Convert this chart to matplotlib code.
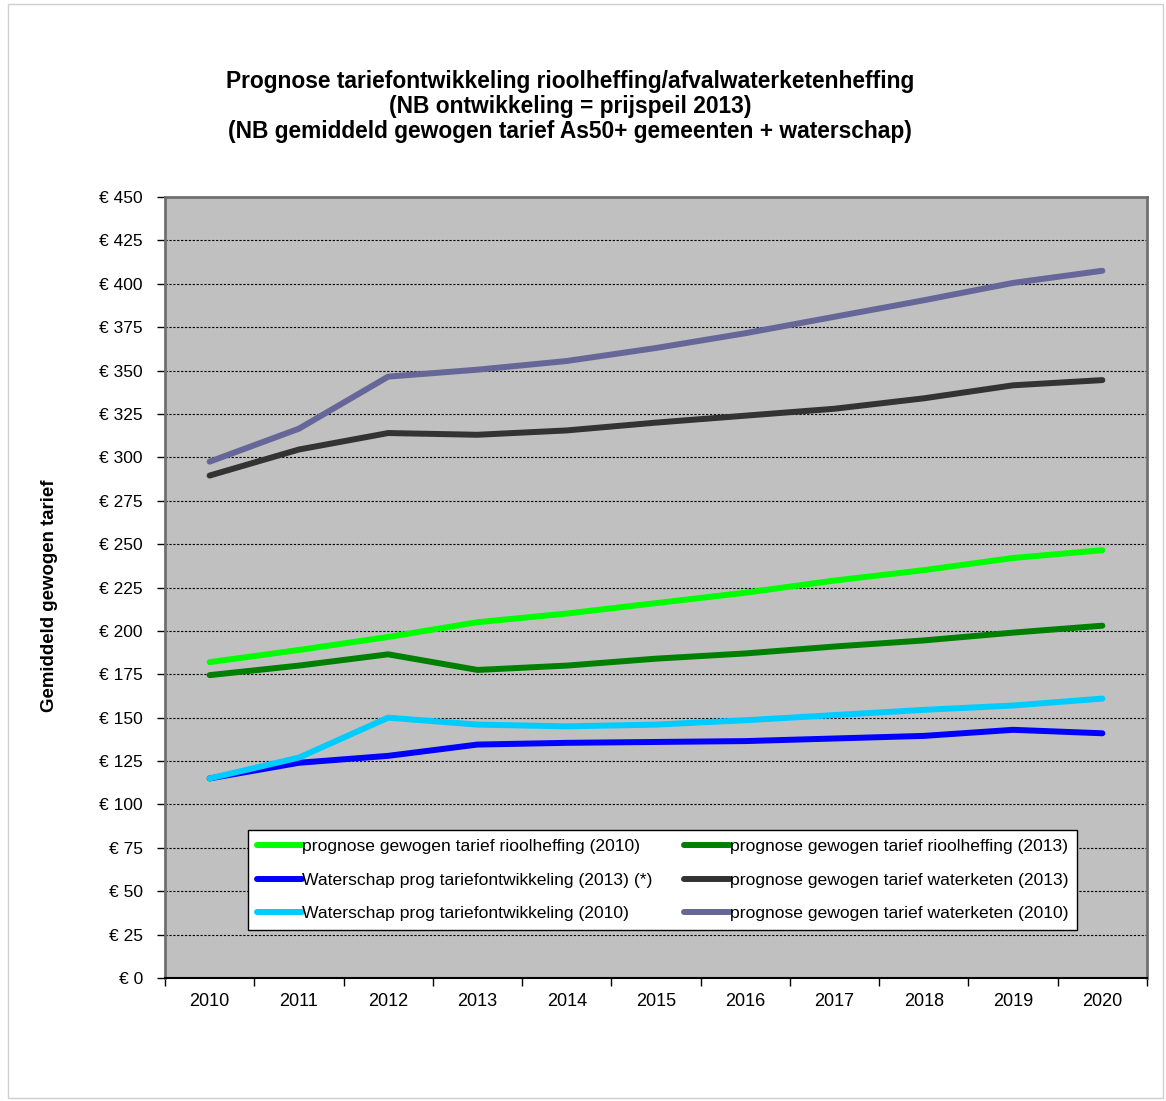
import matplotlib.pyplot as plt
from matplotlib.patches import Rectangle
import numpy as np

plt.rcParams['font.family'] = ['Liberation Sans', 'DejaVu Sans']

years = [2010, 2011, 2012, 2013, 2014, 2015, 2016, 2017, 2018, 2019, 2020]

riool_2010 = [182, 189, 196.5, 205, 210, 216, 222, 229, 235, 242, 246.5]
riool_2013 = [174.5, 180, 186.5, 177.5, 180, 184, 187, 191, 194.5, 199, 203]
waterschap_2013 = [115, 124, 128, 134.5, 135.5, 136, 136.5, 138, 139.5, 143, 141]
waterschap_2010 = [115, 127, 150, 146, 145, 146, 148.5, 151.5, 154.5, 157, 161]
waterketen_2013 = [289.5, 304.5, 314, 313, 315.5, 320, 324, 328, 334, 341.5, 344.5]
waterketen_2010 = [297.5, 316.5, 346.5, 350.5, 355.5, 363, 371.5, 381, 390.5, 400.5, 407.5]

series = [
    ("prognose gewogen tarief rioolheffing (2010)", riool_2010, "#00FF00"),
    ("Waterschap prog tariefontwikkeling (2013) (*)", waterschap_2013, "#0000FF"),
    ("Waterschap prog tariefontwikkeling (2010)", waterschap_2010, "#00CCFF"),
    ("prognose gewogen tarief rioolheffing (2013)", riool_2013, "#008000"),
    ("prognose gewogen tarief waterketen (2013)", waterketen_2013, "#333333"),
    ("prognose gewogen tarief waterketen (2010)", waterketen_2010, "#666699"),
]

fig = plt.figure(figsize=(11.66, 11.01), dpi=100)
fig.patches.append(Rectangle((8 / 1166, 3 / 1101), 1155 / 1166, 1094 / 1101,
                             transform=fig.transFigure, fill=False,
                             edgecolor="#d0d0d0", linewidth=1))
ax = fig.add_axes([165 / 1166, 1 - 978 / 1101, 982 / 1166, 781 / 1101])
ax.set_facecolor("#C0C0C0")

x = np.arange(len(years))
lines = []
for label, vals, color in series:
    ln, = ax.plot(x, vals, color=color, linewidth=4.3, label=label,
                  solid_capstyle="round", solid_joinstyle="round")
    lines.append(ln)

ax.set_xlim(-0.5, len(years) - 0.5)
ax.set_ylim(0, 450)
ax.set_yticks(np.arange(0, 451, 25))
ax.set_yticklabels([f"€ {v}" for v in range(0, 451, 25)])
ax.set_xticks(x)
ax.set_xticklabels([str(y) for y in years])
ax.set_xticks(np.arange(-0.5, len(years), 1), minor=True)
ax.tick_params(axis="x", which="major", length=0, pad=11, labelsize=13)
ax.tick_params(axis="x", which="minor", length=6, width=1, color="black")
ax.tick_params(axis="y", length=6, width=1, pad=10, labelsize=12.5)

for v in range(25, 450, 25):
    ax.axhline(v, color="black", linewidth=0.8, linestyle=(0, (2, 1.5)), zorder=1)

for side in ["left", "right", "top"]:
    ax.spines[side].set_color("#707070")
    ax.spines[side].set_linewidth(2)
ax.spines["bottom"].set_color("black")
ax.spines["bottom"].set_linewidth(1.5)

ax.set_ylabel("Gemiddeld gewogen tarief", fontsize=13.4, fontweight="bold")
ax.yaxis.set_label_coords(-0.109, 0.49)

fig.text(570 / 1166, 1 - 70 / 1101,
         "Prognose tariefontwikkeling rioolheffing/afvalwaterketenheffing\n"
         "(NB ontwikkeling = prijspeil 2013)\n"
         "(NB gemiddeld gewogen tarief As50+ gemeenten + waterschap)",
         ha="center", va="top", fontsize=16.4, fontweight="bold", linespacing=1.1)

leg = ax.legend(handles=lines, ncol=2, loc="upper left",
                bbox_to_anchor=(83 / 982, 148 / 781, 829 / 982, 0),
                mode="expand", fontsize=12.6, frameon=True, fancybox=False,
                edgecolor="black", facecolor="white", framealpha=1,
                handlelength=2.6, handletextpad=0.0, columnspacing=0.5,
                labelspacing=1.05, borderaxespad=0, borderpad=0.5)
leg.get_frame().set_linewidth(1)

fig.savefig("out.png", dpi=100, facecolor="white")
